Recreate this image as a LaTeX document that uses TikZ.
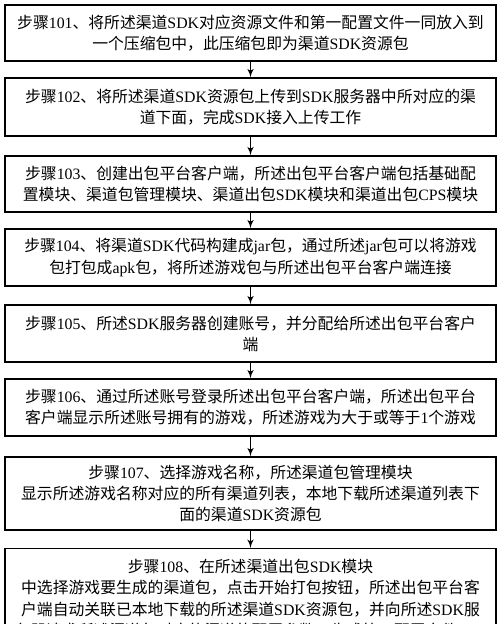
\documentclass[tikz,border=0pt]{standalone}
\usepackage{fontspec}
\setmainfont{Noto Sans CJK SC}
\newfontfamily\latfont{Liberation Serif}
\newcommand{\en}[1]{{\latfont #1}}
\usepackage{tikz}
\usetikzlibrary{arrows}

\begin{document}
\begin{tikzpicture}[>=latex', line width=0.7pt,
		stepbox/.style={draw, minimum width=9.82cm, inner sep=0pt, align=center, font=\fontsize{9}{12}\selectfont}]
			\useasboundingbox (0,0) rectangle (10,-12.48);
			\node[stepbox, minimum height=1.12cm] (s1) at (5.01,-0.66) {步骤\en{101}、将所述渠道\en{SDK}对应资源文件和第一配置文件一同放入到\\一个压缩包中，此压缩包即为渠道\en{SDK}资源包};
			\node[stepbox, minimum height=1.16cm] (s2) at (5.01,-2.14) {步骤\en{102}、将所述渠道\en{SDK}资源包上传到\en{SDK}服务器中所对应的渠\\道下面，完成\en{SDK}接入上传工作};
			\node[stepbox, minimum height=1.12cm] (s3) at (5.01,-3.68) {步骤\en{103}、创建出包平台客户端，所述出包平台客户端包括基础配\\置模块、渠道包管理模块、渠道出包\en{SDK}模块和渠道出包\en{CPS}模块};
			\node[stepbox, minimum height=1.14cm] (s4) at (5.01,-5.15) {步骤\en{104}、将渠道\en{SDK}代码构建成\en{jar}包，通过所述\en{jar}包可以将游戏\\包打包成\en{apk}包，将所述游戏包与所述出包平台客户端连接};
			\node[stepbox, minimum height=1.14cm] (s5) at (5.01,-6.67) {步骤\en{105}、所述\en{SDK}服务器创建账号，并分配给所述出包平台客户\\端};
			\node[stepbox, minimum height=1.14cm] (s6) at (5.01,-8.15) {步骤\en{106}、通过所述账号登录所述出包平台客户端，所述出包平台\\客户端显示所述账号拥有的游戏，所述游戏为大于或等于\en{1}个游戏};
			\node[stepbox, minimum height=1.46cm] (s7) at (5.01,-9.87) {步骤\en{107}、选择游戏名称，所述渠道包管理模块\\显示所述游戏名称对应的所有渠道列表，本地下载所述渠道列表下\\面的渠道\en{SDK}资源包};
			\node[stepbox, anchor=north, inner ysep=3pt, minimum height=2cm] (s8) at (5.01,-10.96) {步骤\en{108}、在所述渠道出包\en{SDK}模块\\中选择游戏要生成的渠道包，点击开始打包按钮，所述出包平台客\\户端自动关联已本地下载的所述渠道\en{SDK}资源包，并向所述\en{SDK}服\\\makebox[9.44cm][l]{务器请求所述渠道包对应的渠道的配置参数，生成第二配置文件}};
			\draw[->] (s1) -- (s2);
			\draw[->] (s2) -- (s3);
			\draw[->] (s3) -- (s4);
			\draw[->] (s4) -- (s5);
			\draw[->] (s5) -- (s6);
			\draw[->] (s6) -- (s7);
			\draw[->] (s7) -- (s8);
		\end{tikzpicture}
\end{document}
